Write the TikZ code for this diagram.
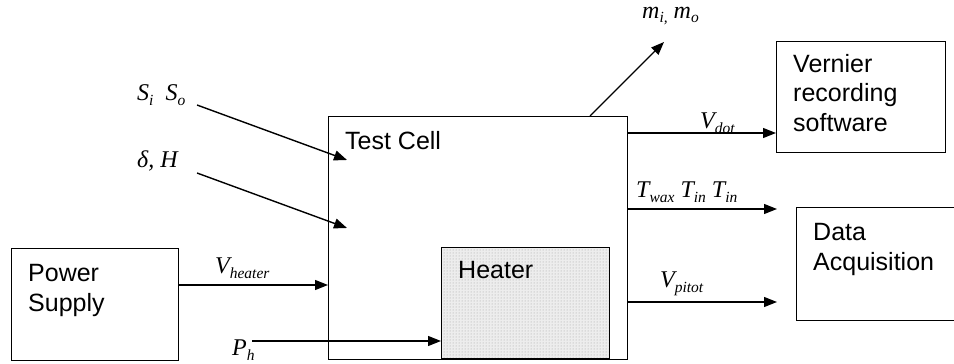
\documentclass[tikz,border=0pt]{standalone}
\usepackage{fontspec}
\setmainfont{Liberation Sans}
\newfontfamily\tms{Liberation Serif}
\usetikzlibrary{arrows.meta,patterns}
\newcommand\lsub[1]{\raisebox{-5pt}{\fontsize{15.5}{15.5}\selectfont\tms\itshape #1}}
\begin{document}
\begin{tikzpicture}[x=1pt,y=-1pt,
  box/.style={draw, line width=1.4pt, inner sep=0, anchor=north west},
  txt/.style={font=\fontsize{25}{29.5}\selectfont, inner sep=0, anchor=base west, align=left},
  lab/.style={font=\fontsize{24}{24}\selectfont\tms\itshape, inner sep=0, anchor=base west},
  arr/.style={line width=1.4pt, -{Triangle[length=13pt,width=10pt]}}]
\useasboundingbox (0,0) rectangle (954,364);
% boxes
\node[box, minimum width=167pt, minimum height=112pt] (ps) at (11,248) {};
\node[box, minimum width=299pt, minimum height=243pt] (tc) at (328,116) {};
\node[box, minimum width=168pt, minimum height=111pt, preaction={fill=gray!14}, pattern=dots, pattern color=gray!75] (ht) at (441,247) {};
\node[box, minimum width=169pt, minimum height=111pt] (vr) at (776,41) {};
\node[box, minimum width=180pt, minimum height=113pt] (da) at (796,207) {};
% box texts (base = last line)
\node[txt] (pst) at (28,311) {Power\\Supply};
\node[txt] (tct) at (345,149) {Test Cell};
\node[txt] (htt) at (458,278) {Heater};
\node[txt] (vrt) at (793,131) {Vernier\\recording\\software};
\node[txt] (dat) at (813,270) {Data\\Acquisition};
% labels
\node[lab] (lvh) at (215,273) {V\lsub{heater}};
\node[lab] (lph) at (232,355) {P\lsub{h}};
\node[lab] (lso) at (137,100) {S\lsub{i}\hspace{12pt}S\lsub{o}};
\node[lab] (ldh) at (137,167) {δ, H};
\node[lab] (lm) at (642,18) {m\lsub{i,} m\lsub{o}};
\node[lab] (lvd) at (700,128) {V\lsub{dot}};
\node[lab] (lt) at (636,197) {T\lsub{wax} T\lsub{in} T\lsub{in}};
\node[lab] (lvp) at (660,287) {V\lsub{pitot}};
% free ends
\coordinate (s1) at (197,105);
\coordinate (s2) at (347,160);
\coordinate (d1) at (197,173);
\coordinate (d2) at (347,228);
\coordinate (p1) at (252,341);
\coordinate (m2) at (664,42);
\coordinate (t2) at (777,209);
\coordinate (v2) at (777,302);
% connectors
\draw[arr] (ps.east |- 0,285) -- (tc.west |- 0,285);
\draw[arr] (p1) -- (ht.west |- p1);
\draw[arr] (s1) -- (s2);
\draw[arr] (d1) -- (d2);
\draw[arr] (590,0 |- tc.north) -- (m2);
\draw[arr] (tc.east |- 0,133) -- (vr.west |- 0,133);
\draw[arr] (tc.east |- t2) -- (t2);
\draw[arr] (tc.east |- v2) -- (v2);
\end{tikzpicture}
\end{document}
